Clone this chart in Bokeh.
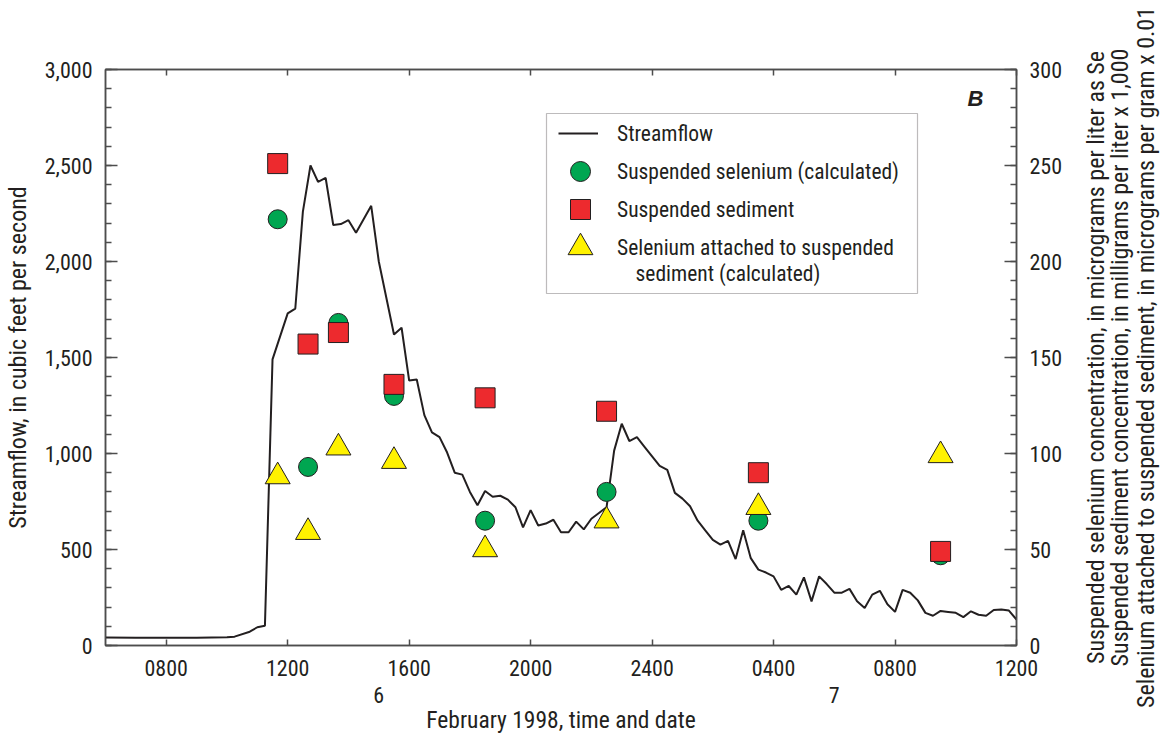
from bokeh.plotting import figure
from bokeh.layouts import row
from bokeh.models import (Range1d, LinearAxis, FixedTicker, SingleIntervalTicker,
                          NumeralTickFormatter, Legend, LegendItem, Label, BoxAnnotation)
from bokeh.embed import file_html
from bokeh.resources import INLINE

# Streamflow record, hours after midnight on February 6, 1998
time_hr = [6.0, 7.0, 8.0, 9.0, 10.0, 10.25, 10.75, 11.0, 11.25, 11.5, 12.0, 12.25,
           12.5, 12.75, 13.0, 13.25, 13.5, 13.75, 14.0, 14.25, 14.75, 15.0, 15.5,
           15.75, 16.0, 16.25, 16.5, 16.75, 17.0, 17.25, 17.5, 17.75, 18.0, 18.25,
           18.5, 18.75, 19.0, 19.25, 19.5, 19.75, 20.0, 20.25, 20.5, 20.75, 21.0,
           21.25, 21.5, 21.75, 22.0, 22.25, 22.5, 22.75, 23.0, 23.25, 23.5, 23.75,
           24.0, 24.25, 24.5, 24.75, 25.0, 25.25, 25.5, 25.75, 26.0, 26.25, 26.5,
           26.75, 27.0, 27.25, 27.5, 27.75, 28.0, 28.25, 28.5, 28.75, 29.0, 29.25,
           29.5, 29.75, 30.0, 30.25, 30.5, 30.75, 31.0, 31.25, 31.5, 31.75, 32.0,
           32.25, 32.5, 32.75, 33.0, 33.25, 33.5, 33.75, 34.0, 34.25, 34.5, 34.75,
           35.0, 35.25, 35.5, 35.75, 36.0]
flow_cfs = [42, 40, 40, 41, 43, 46, 72, 95, 103, 1490, 1730, 1755,
            2260, 2500, 2415, 2435, 2190, 2195, 2215, 2150, 2290, 2000, 1620,
            1655, 1380, 1385, 1200, 1110, 1085, 1005, 900, 890, 800, 730,
            805, 775, 780, 760, 720, 615, 705, 625, 635, 655, 590,
            590, 645, 605, 660, 690, 720, 1015, 1155, 1065, 1085, 1035,
            985, 935, 915, 795, 765, 725, 650, 600, 550, 525, 545,
            450, 600, 455, 395, 380, 360, 290, 310, 265, 355, 230,
            360, 320, 275, 275, 295, 230, 195, 265, 285, 215, 175,
            290, 275, 235, 170, 155, 180, 175, 170, 148, 178, 160,
            155, 185, 188, 182, 135]

# Water-quality samples (same hour scale)
sample_hr = [11.67, 12.67, 13.67, 15.5, 18.5, 22.5, 27.5, 33.5]
selenium_ugL = [222, 93, 168, 130, 65, 80, 65, 47]          # micrograms per liter as Se
sediment_x1000 = [251, 157, 163, 136, 129, 122, 90, 49]      # mg/L x 1,000
se_attached_x001 = [88, 59, 103, 96, 50, 65, 72, 99]         # ug/g x 0.01

tick_hr = [8, 12, 16, 20, 24, 28, 32, 36]
tick_labels = ["0800", "1200", "1600", "2000", "2400", "0400", "0800", "1200"]
day_hr = [15, 30]
day_labels = ["6", "7"]

right_titles = [
    "Suspended selenium concentration, in micrograms per liter as Se",
    "Suspended sediment concentration, in milligrams per liter x 1,000",
    "Selenium attached to suspended sediment, in micrograms per gram x 0.01",
]

FONT = "Roboto Condensed, DejaVu Sans Condensed, Liberation Sans Narrow, Roboto"
INK = "#231f20"
FRAME = "#4d4d4d"
H = 736
MAIN_W = 1065
SIDE_W = 1167 - MAIN_W

p = figure(width=MAIN_W, height=H, output_backend="svg", toolbar_location=None,
           x_range=Range1d(6, 36), y_range=Range1d(0, 3000),
           min_border_left=105, min_border_right=MAIN_W - 1017, min_border_top=69,
           min_border_bottom=91, background_fill_color="white",
           border_fill_color="white")
p.extra_y_ranges = {"conc": Range1d(0, 300)}
p.xgrid.visible = False
p.ygrid.visible = False
p.outline_line_color = FRAME
p.outline_line_width = 1.5

# bottom axis: clock times
xa = p.xaxis[0]
xa.ticker = FixedTicker(ticks=tick_hr)
xa.major_label_overrides = {t: s for t, s in zip(tick_hr, tick_labels)}
xa.major_tick_in = 6
xa.major_tick_out = 0
xa.minor_tick_line_color = None
xa.axis_line_color = FRAME
xa.axis_line_width = 1.5
xa.major_tick_line_color = FRAME
xa.major_tick_line_width = 1.5
xa.major_label_standoff = 14
xa.major_label_text_font = FONT
xa.major_label_text_font_size = "22px"
xa.major_label_text_color = INK

# second row below: calendar day and axis title
dax = LinearAxis(ticker=FixedTicker(ticks=day_hr),
                 major_label_overrides={t: s for t, s in zip(day_hr, day_labels)},
                 axis_line_color=None, major_tick_line_color=None,
                 minor_tick_line_color=None, major_tick_in=0, major_tick_out=0,
                 major_label_standoff=8, major_label_text_font=FONT,
                 major_label_text_font_size="22px", major_label_text_color=INK,
                 axis_label="February 1998, time and date",
                 axis_label_text_font=FONT, axis_label_text_font_size="23.5px",
                 axis_label_text_font_style="normal", axis_label_text_color=INK,
                 axis_label_standoff=0)
p.add_layout(dax, "below")

# top tick marks
tax = LinearAxis(ticker=FixedTicker(ticks=tick_hr),
                 major_label_overrides={t: "" for t in tick_hr},
                 axis_line_color=FRAME, axis_line_width=1.5,
                 major_tick_line_color=FRAME, major_tick_line_width=1.5,
                 minor_tick_line_color=None, major_tick_in=6, major_tick_out=0,
                 major_label_standoff=0, major_label_text_font_size="1px")
p.add_layout(tax, "above")

# left axis: streamflow
ya = p.yaxis[0]
ya.ticker = SingleIntervalTicker(interval=500, num_minor_ticks=5)
ya.formatter = NumeralTickFormatter(format="0,0")
ya.major_tick_in = 12
ya.major_tick_out = 0
ya.minor_tick_in = 6
ya.minor_tick_out = 0
ya.axis_line_color = FRAME
ya.axis_line_width = 1.5
ya.major_tick_line_color = FRAME
ya.minor_tick_line_color = FRAME
ya.major_tick_line_width = 1.5
ya.minor_tick_line_width = 1.5
ya.major_label_standoff = 13
ya.major_label_text_font = FONT
ya.major_label_text_font_size = "22px"
ya.major_label_text_color = INK
ya.axis_label = "Streamflow, in cubic feet per second"
ya.axis_label_text_font = FONT
ya.axis_label_text_font_size = "24px"
ya.axis_label_text_font_style = "normal"
ya.axis_label_text_color = INK
ya.axis_label_standoff = 10

# right axis: concentrations
ra = LinearAxis(y_range_name="conc",
                ticker=SingleIntervalTicker(interval=50, num_minor_ticks=5),
                major_tick_in=12, major_tick_out=0, minor_tick_in=6, minor_tick_out=0,
                axis_line_color=FRAME, axis_line_width=1.5,
                major_tick_line_color=FRAME, minor_tick_line_color=FRAME,
                major_tick_line_width=1.5, minor_tick_line_width=1.5,
                major_label_standoff=13, major_label_text_font=FONT,
                major_label_text_font_size="22px", major_label_text_color=INK)
p.add_layout(ra, "right")

p.add_layout(Label(x=870, y=547, x_units="screen", y_units="screen", text="B",
                   text_align="center", text_baseline="middle",
                   text_font="Liberation Sans", text_font_style="bold italic",
                   text_font_size="22px", text_color=INK))

# data
flow_r = p.line(time_hr, flow_cfs, line_color=INK, line_width=2)
se_r = p.scatter(sample_hr, selenium_ugL, y_range_name="conc", marker="circle",
                 size=19, fill_color="#00a651", line_color=INK, line_width=1)
tri_r = p.scatter(sample_hr, se_attached_x001, y_range_name="conc", marker="triangle",
                  size=25, fill_color="#fff200", line_color=INK, line_width=1)
sed_r = p.scatter(sample_hr, sediment_x1000, y_range_name="conc", marker="square",
                  size=20, fill_color="#ed2a2e", line_color=INK, line_width=1)

# legend frame, then one row per series so each key keeps its own symbol size
p.add_layout(BoxAnnotation(left=441, right=812, top=532, bottom=352,
                           left_units="screen", right_units="screen",
                           top_units="screen", bottom_units="screen",
                           fill_color="white", fill_alpha=1,
                           line_color=INK, line_width=1.2))

rows = [
    # label, renderer, glyph box, standoff, (x, y) of the row's lower-left corner
    ("Streamflow", flow_r, (40, 38), 19, (453, 493)),
    ("Suspended selenium (calculated)", se_r, (50, 50), 12, (450, 449)),
    ("Suspended sediment", sed_r, (50, 50), 12, (450, 411)),
    ("Selenium attached to suspended", tri_r, (62, 62), 6, (444, 367)),
]
for label, rend, (gw, gh), standoff, loc in rows:
    p.add_layout(Legend(items=[LegendItem(label=label, renderers=[rend])],
                        location=loc, glyph_width=gw, glyph_height=gh,
                        label_standoff=standoff, padding=0, margin=0, spacing=0,
                        label_text_font=FONT, label_text_font_size="21.5px",
                        label_text_color=INK, border_line_color=None,
                        background_fill_alpha=0))
p.add_layout(Label(x=530, y=372, x_units="screen", y_units="screen",
                   text="sediment (calculated)", text_align="left",
                   text_baseline="middle", text_font=FONT,
                   text_font_size="21.5px", text_color=INK))

# narrow strip on the right carrying the three right-axis title lines,
# each set as the title of a bare axis so it reads upward and stays centred
side = figure(width=SIDE_W, height=H, output_backend="svg", toolbar_location=None,
              x_range=Range1d(0, 1), y_range=Range1d(0, 1),
              x_axis_location=None, y_axis_location=None,
              min_border_left=100, min_border_right=0, min_border_top=0,
              min_border_bottom=0, outline_line_color=None,
              background_fill_color="white", border_fill_color="white")
side.xgrid.visible = False
side.ygrid.visible = False
gaps = [-7, -5, 6]
for txt, gap in reversed(list(zip(right_titles, gaps))):
    side.add_layout(LinearAxis(ticker=FixedTicker(ticks=[]), axis_line_color=None,
                               major_tick_line_color=None, minor_tick_line_color=None,
                               major_tick_in=0, major_tick_out=0, major_label_standoff=0,
                               axis_label=txt, axis_label_standoff=gap,
                               axis_label_text_font=FONT,
                               axis_label_text_font_size="24px",
                               axis_label_text_font_style="normal",
                               axis_label_text_color=INK), "left")

layout = row(p, side, spacing=0)
open("out.html", "w").write(file_html(layout, INLINE))
